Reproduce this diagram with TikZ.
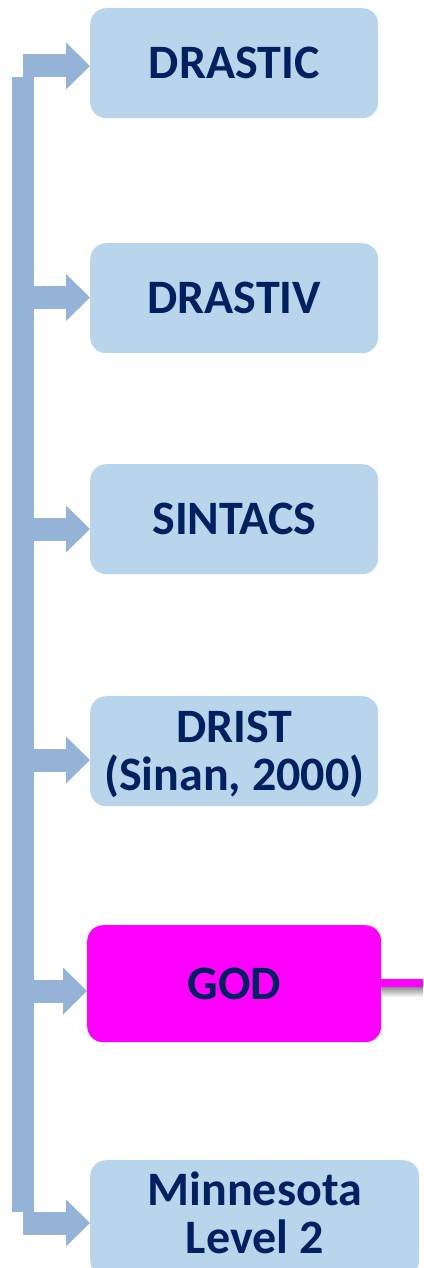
\documentclass[tikz,border=0pt]{standalone}
\usepackage{fontspec}
\setmainfont{Carlito}
\usetikzlibrary{arrows.meta}
\definecolor{boxblue}{HTML}{B9D5EC}
\definecolor{barblue}{HTML}{95B3D7}
\definecolor{navy}{HTML}{002060}
\definecolor{mag}{HTML}{FF00FF}
\begin{document}
\begin{tikzpicture}[x=1pt,y=-1pt,
  box/.style={rounded corners=16pt, fill=boxblue, inner sep=0pt, align=center,
    text=navy, font=\fontsize{48}{48}\selectfont\bfseries, anchor=north west,
    text depth=0pt, minimum width=288pt, minimum height=110pt},
  feed/.style={draw=barblue, line width=23pt,
    -{Triangle[length=24pt,width=47pt,line width=0pt]}},
  trunk/.style={draw=barblue, line width=22pt}
]
\useasboundingbox (0,0) rectangle (423,1268);
% boxes
\node[box] (b1) at (90,8) {DRASTIC};
\node[box] (b2) at (90,243) {DRASTIV};
\node[box] (b3) at (90,464) {SINTACS};
\node[box] (b4) at (90,696) {DRIST\\(Sinan, 2000)};
\node[box, fill=mag, minimum width=294pt, minimum height=117pt] (b5) at (87,925) {GOD};
\node[box, minimum width=329pt, minimum height=116pt, text depth=12pt] (b6) at (90,1160) {Minnesota\\Level 2};
% trunk
\coordinate (s1) at (23,66);
\coordinate (s2) at (23,297.5);
\coordinate (s3) at (23,529);
\coordinate (s4) at (23,760);
\coordinate (s5) at (23,991);
\coordinate (s6) at (23,1223);
\draw[trunk] ([yshift=-11.5pt]s1) -- ([yshift=11.5pt]s6);
\foreach \i in {1,...,6} {\draw[feed] (s\i) -- (b\i.west |- s\i);}
% outgoing magenta connector
\coordinate (gout) at (423,983);
\shade[top color=black!45, bottom color=white] (b5.east |- 0,987) rectangle (423,997);
\draw[mag, line width=8pt] (b5.east |- gout) -- (gout);
\end{tikzpicture}
\end{document}
